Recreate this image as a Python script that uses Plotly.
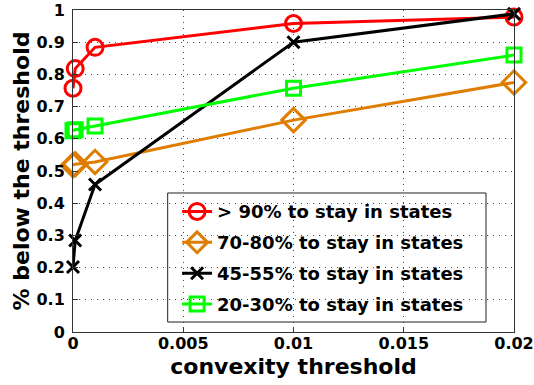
import plotly.graph_objects as go

x_vals = [0, 0.0001, 0.001, 0.01, 0.02]
series_names = ["> 90% to stay in states", "70-80% to stay in states",
                "45-55% to stay in states", "20-30% to stay in states"]
red_vals = [0.757, 0.818, 0.884, 0.958, 0.978]
orange_vals = [0.518, 0.521, 0.528, 0.658, 0.775]
black_vals = [0.202, 0.284, 0.458, 0.900, 0.988]
green_vals = [0.625, 0.628, 0.640, 0.757, 0.860]
y_ticks = [0, 0.1, 0.2, 0.3, 0.4, 0.5, 0.6, 0.7, 0.8, 0.9, 1]
y_ticklabels = ["0", "0.1", "0.2", "0.3", "0.4", "0.5", "0.6", "0.7", "0.8", "0.9", "1"]
x_ticks = [0, 0.005, 0.01, 0.015, 0.02]
x_ticklabels = ["0", "0.005", "0.01", "0.015", "0.02"]

colors = ["#ff0000", "#de7d00", "#000000", "#00ff00"]
symbols = ["circle-open", "diamond-open", "x-thin-open", "square-open"]
sizes = [16, 18, 12, 14]
data = [red_vals, orange_vals, black_vals, green_vals]

fig = go.Figure()
for i, (name, vals) in enumerate(zip(series_names, data)):
    fig.add_trace(go.Scatter(
        x=x_vals, y=vals, name=name, mode="lines+markers",
        legendgroup=f"g{i}", cliponaxis=False,
        line=dict(color=colors[i], width=3),
        marker=dict(symbol=symbols[i], size=sizes[i], color=colors[i],
                    line=dict(width=3, color=colors[i])),
    ))

# legend frame
fig.add_shape(type="rect", xref="paper", yref="paper",
              x0=0.2147, x1=0.9365, y0=0.031, y1=0.4317,
              fillcolor="white", line=dict(color="#222", width=1), layer="below")

font_family = "DejaVu Sans"
fig.update_layout(
    width=534, height=385,
    margin=dict(l=73, r=20, t=10, b=53),
    paper_bgcolor="white", plot_bgcolor="white",
    showlegend=True,
    legend=dict(x=0.236, y=0.431, xanchor="left", yanchor="top",
                bgcolor="rgba(0,0,0,0)", borderwidth=0,
                font=dict(family=font_family, size=18, color="black", weight="bold"),
                tracegroupgap=4.5),
    xaxis=dict(range=[0, 0.02], tickvals=x_ticks, ticktext=x_ticklabels,
               showgrid=True, gridcolor="#444", griddash="1px,5px", gridwidth=1,
               ticks="inside", ticklen=5, tickcolor="#333",
               showline=True, linecolor="#333", linewidth=1, mirror=True,
               zeroline=False, automargin=False, ticklabelstandoff=-3,
               tickfont=dict(family=font_family, size=16, color="black", weight="bold"),
               title=dict(text="convexity threshold", standoff=6,
                          font=dict(family=font_family, size=22, color="black", weight="bold"))),
    yaxis=dict(range=[0, 1], tickvals=y_ticks, ticktext=y_ticklabels,
               showgrid=True, gridcolor="#444", griddash="1px,5px", gridwidth=1,
               ticks="inside", ticklen=5, tickcolor="#333",
               showline=True, linecolor="#333", linewidth=1, mirror=True,
               zeroline=False, automargin=False, ticklabelstandoff=4,
               tickfont=dict(family=font_family, size=16, color="black", weight="bold"),
               title=dict(text="% below the threshold", standoff=0,
                          font=dict(family=font_family, size=22, color="black", weight="bold"))),
)

fig.write_html("out.html", config={"displayModeBar": False},
               post_script="document.body.style.margin='0';")
